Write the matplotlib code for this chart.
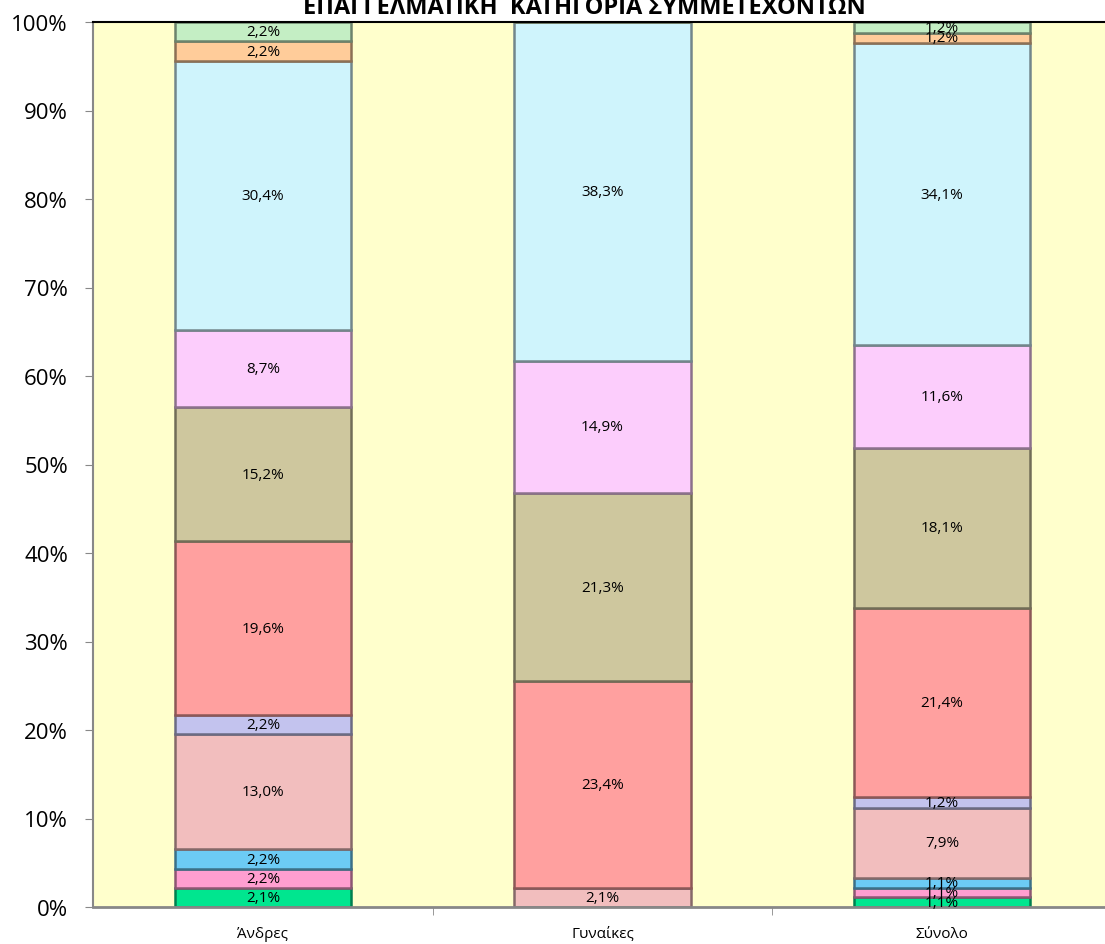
import numpy as np
import matplotlib.pyplot as plt
import matplotlib.colors as mcolors

categories = ["Άνδρες", "Γυναίκες", "Σύνολο"]

# segments from bottom to top (percent)
seg_green = [2.1, 0.0, 1.1]
seg_pink = [2.2, 0.0, 1.1]
seg_blue = [2.2, 0.0, 1.1]
seg_rose = [13.0, 2.1, 7.9]
seg_lavender = [2.2, 0.0, 1.2]
seg_salmon = [19.6, 23.4, 21.4]
seg_khaki = [15.2, 21.3, 18.1]
seg_magenta = [8.7, 14.9, 11.6]
seg_cyan = [30.4, 38.3, 34.1]
seg_peach = [2.2, 0.0, 1.2]
seg_mint = [2.2, 0.0, 1.2]

series = [seg_green, seg_pink, seg_blue, seg_rose, seg_lavender, seg_salmon,
          seg_khaki, seg_magenta, seg_cyan, seg_peach, seg_mint]
colors = ["#00E68F", "#FF9ED0", "#6CCBF5", "#F2BEBE", "#C3C3EE", "#FFA09F",
          "#CEC79E", "#FCCDFC", "#CFF4FC", "#FFCC9A", "#C4EEC4"]

plt.rcParams["font.family"] = ["Open Sans", "DejaVu Sans"]

fig = plt.figure(figsize=(11.05, 9.45), dpi=100)
# plot area runs past the right edge of the picture, as in the original
ax = fig.add_axes([93 / 1105, 37 / 945, 1019 / 1105, 885 / 945])
ax.set_facecolor("#FFFFCC")

x = np.arange(len(categories))
bottom = np.zeros(len(categories))
for vals, col in zip(series, colors):
    vals = np.array(vals)
    edge = np.array(mcolors.to_rgb(col)) * 0.55
    ax.bar(x, vals, 0.52, bottom=bottom, color=col, edgecolor=edge, linewidth=1.8)
    for xi, v, b in zip(x, vals, bottom):
        if v > 0:
            ax.text(xi, b + v / 2, f"{v:.1f}%".replace(".", ","), ha="center",
                    va="center", fontsize=11, color="black")
    bottom += vals

ax.set_xlim(-0.5, 2.5)
ax.set_ylim(0, 100)
ax.set_yticks(np.arange(0, 101, 10))
ax.set_yticklabels([f"{t}%" for t in range(0, 101, 10)], fontsize=16)
ax.set_xticks(x)
ax.set_xticklabels(categories, fontsize=11)
ax.set_xticks([0.5, 1.5], minor=True)
ax.tick_params(axis="x", which="major", length=0, pad=14)
ax.tick_params(axis="x", which="minor", length=6, color="#888888")
ax.tick_params(axis="y", length=6, color="#888888", pad=12)

ax.spines["top"].set_color("black")
ax.spines["top"].set_linewidth(1.5)
ax.spines["right"].set_visible(False)
ax.spines["left"].set_color("#888888")
ax.spines["left"].set_linewidth(1.5)
ax.spines["bottom"].set_color("#888888")
ax.spines["bottom"].set_linewidth(2)

fig.text(584 / 1105, 1 - 8 / 945, "ΕΠΑΓΓΕΛΜΑΤΙΚΗ  ΚΑΤΗΓΟΡΙΑ ΣΥΜΜΕΤΕΧΟΝΤΩΝ",
         ha="center", va="center", fontsize=17, fontweight="bold",
         family=["Liberation Sans Narrow", "Open Sans", "DejaVu Sans"])

fig.savefig("out.png", dpi=100)
